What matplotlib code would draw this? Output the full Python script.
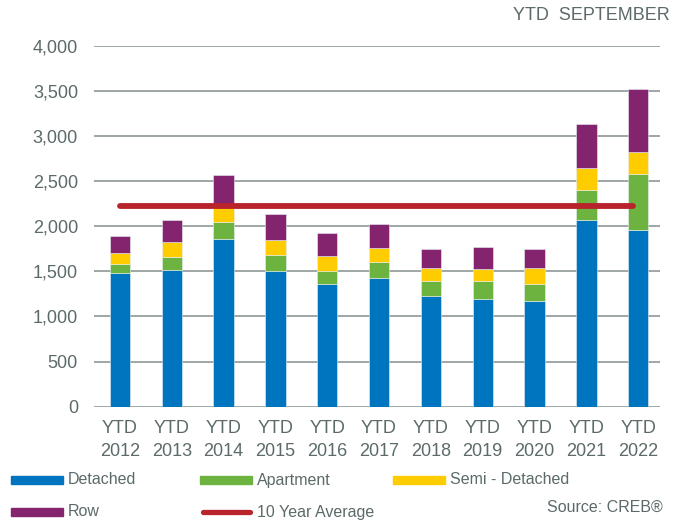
import numpy as np
import matplotlib
matplotlib.use("Agg")
import matplotlib.pyplot as plt
from matplotlib.patches import Rectangle
from matplotlib.lines import Line2D

plt.rcParams['font.family'] = ['Liberation Sans', 'DejaVu Sans']

# YTD September sales by property type
years = ["2012", "2013", "2014", "2015", "2016", "2017",
         "2018", "2019", "2020", "2021", "2022"]
detached = [1481, 1519, 1857, 1508, 1360, 1426, 1227, 1190, 1172, 2075, 1957]
apartment = [100, 139, 188, 173, 143, 174, 170, 199, 192, 332, 627]
semi_detached = [118, 166, 205, 162, 166, 158, 136, 141, 173, 236, 236]
row = [188, 248, 320, 288, 255, 262, 210, 235, 210, 491, 701]
ten_year_avg = 2230

series = [("Detached", detached, "#0075bf"),
          ("Apartment", apartment, "#6db33f"),
          ("Semi - Detached", semi_detached, "#ffcc00"),
          ("Row", row, "#84246f")]
avg_color = "#b8232c"
text_color = "#5c6a6a"
grid_color = "#85908e"

W, H = 675, 523
fig = plt.figure(figsize=(W / 100, H / 100), dpi=100)
ax = fig.add_axes([94 / W, 1 - 406.6 / H, (660 - 94) / W, (406.6 - 46) / H])

x = np.arange(len(years))
bottom = np.zeros(len(years))
for name, vals, col in series:
    ax.bar(x, vals, width=0.39, bottom=bottom, color=col,
           edgecolor="#e8eef4", linewidth=0.4, zorder=3)
    bottom += np.array(vals)

ax.plot([x[0], x[-1] - 0.1], [ten_year_avg, ten_year_avg], color=avg_color,
        lw=4.2, solid_capstyle="round", zorder=4)

ax.set_xlim(-0.5, 10.42)
ax.set_ylim(0, 4000)
ax.set_yticks(range(0, 4001, 500))
ax.set_yticklabels([f"{v:,}" for v in range(0, 4001, 500)])
ax.set_xticks(x)
ax.set_xticklabels([f"YTD\n{y}" for y in years], linespacing=1.45)
ax.tick_params(axis="both", length=0, labelsize=13, colors=text_color)
ax.tick_params(axis="y", pad=11.5)
ax.tick_params(axis="x", pad=10)
ax.grid(axis="y", color=grid_color, lw=1.1, zorder=0)
for s in ax.spines.values():
    s.set_visible(False)

fig.text(670 / W, 1 - 15 / H, "YTD  SEPTEMBER", ha="right", va="center",
         fontsize=13, color=text_color)

# hand-placed legend in pixel positions
entries = [("Detached", "#0075bf", "patch", 11, 480),
           ("Apartment", "#6db33f", "patch", 200, 480),
           ("Semi - Detached", "#ffcc00", "patch", 393, 480),
           ("Row", "#84246f", "patch", 11, 512),
           ("10 Year Average", avg_color, "line", 200, 512)]
for label, col, kind, px, py in entries:
    if kind == "patch":
        fig.add_artist(Rectangle((px / W, 1 - (py + 4) / H), 52 / W, 8 / H,
                                 color=col, transform=fig.transFigure))
    else:
        fig.add_artist(Line2D([(px + 3) / W, (px + 50) / W], [1 - py / H, 1 - py / H],
                              color=col, lw=3.8, solid_capstyle="round",
                              transform=fig.transFigure))
    fig.text((px + 57) / W, 1 - py / H, label, ha="left", va="center",
             fontsize=11.5, color=text_color)

fig.text(663 / W, 1 - 507 / H, "Source: CREB®", ha="right", va="center",
         fontsize=11.5, color=text_color)

fig.savefig("out.png", dpi=100)
